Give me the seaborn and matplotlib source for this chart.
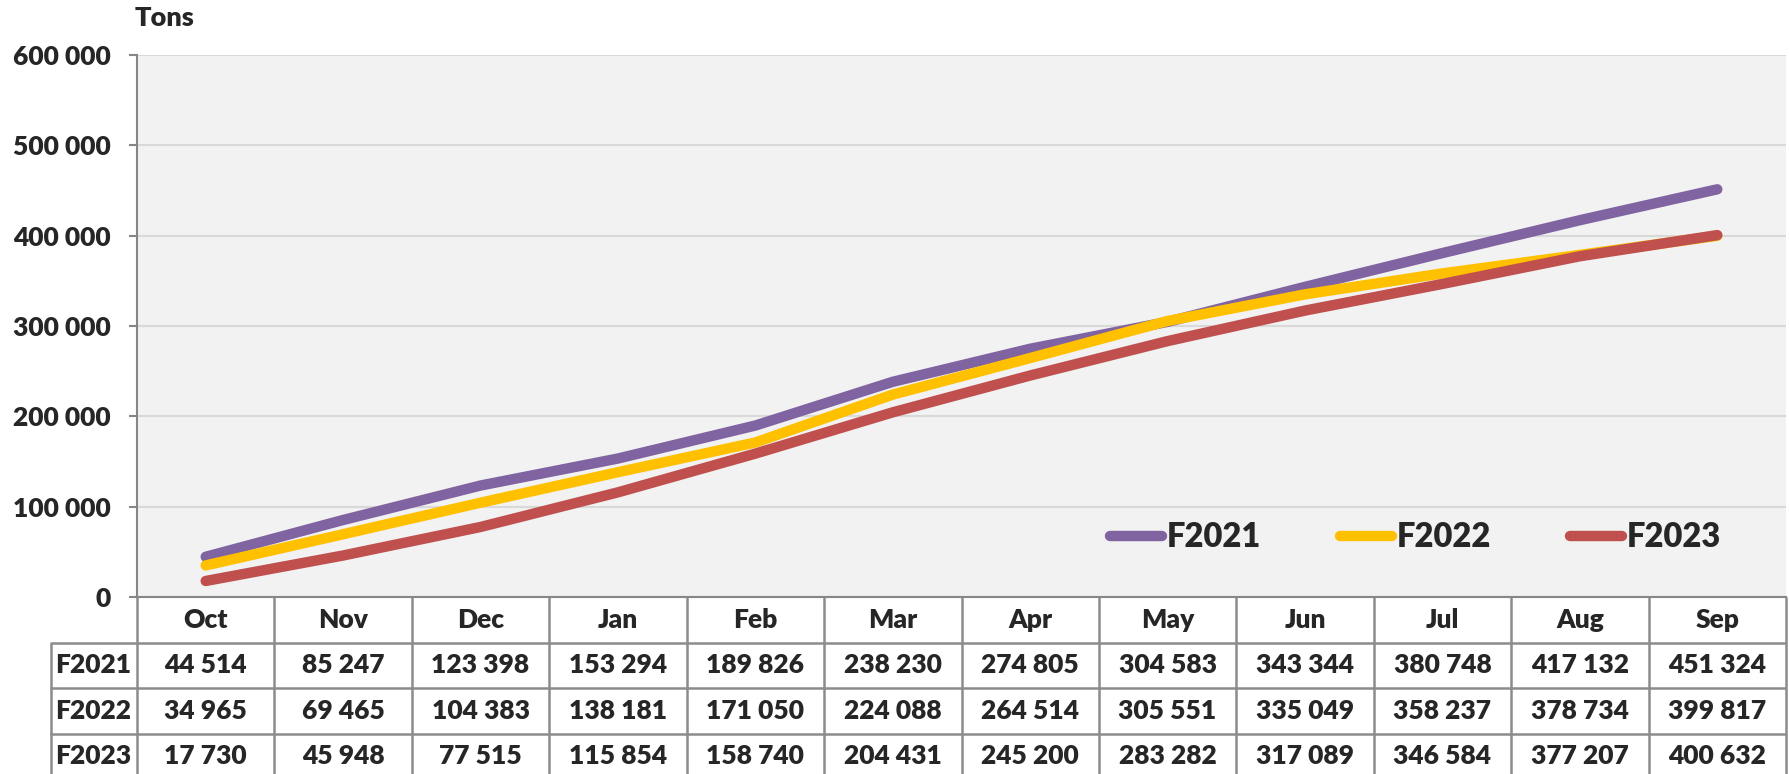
import matplotlib
matplotlib.use("Agg")
import matplotlib.pyplot as plt
from matplotlib.lines import Line2D
import seaborn as sns
import pandas as pd

months = ["Oct", "Nov", "Dec", "Jan", "Feb", "Mar", "Apr", "May", "Jun", "Jul", "Aug", "Sep"]
series_names = ["F2021", "F2022", "F2023"]
f2021 = [44514, 85247, 123398, 153294, 189826, 238230, 274805, 304583, 343344, 380748, 417132, 451324]
f2022 = [34965, 69465, 104383, 138181, 171050, 224088, 264514, 305551, 335049, 358237, 378734, 399817]
f2023 = [17730, 45948, 77515, 115854, 158740, 204431, 245200, 283282, 317089, 346584, 377207, 400632]
colors = ["#8064A2", "#FFC000", "#C0504D"]
y_ticks = [0, 100000, 200000, 300000, 400000, 500000, 600000]

series_values = [f2021, f2022, f2023]
df = pd.DataFrame({
    "month": months * 3,
    "series": [s for s in series_names for _ in months],
    "tons": f2021 + f2022 + f2023,
})


def fmt(v):
    return f"{v:,}".replace(",", " ")


sns.set_theme(style="white")
plt.rcParams["font.family"] = ["Lato", "DejaVu Sans"]
WEIGHT = 800
FS = 19

W, H = 1789, 774
fig = plt.figure(figsize=(W / 100, H / 100), dpi=100)
fig.patch.set_facecolor("white")

# geometry in pixels
left_px, right_px, top_px, zero_px = 137, 1786, 55, 597
tab_left_px = 50
ax = fig.add_axes([left_px / W, 1 - zero_px / H, (right_px - left_px) / W, (zero_px - top_px) / H])
ax.set_facecolor("#F2F2F2")

sns.lineplot(data=df, x="month", y="tons", hue="series", palette=colors,
             linewidth=7.5, sort=False, legend=False, ax=ax,
             solid_capstyle="round", solid_joinstyle="round")

ax.set_xlim(-0.5, len(months) - 0.5)
ax.set_ylim(y_ticks[0], y_ticks[-1])
ax.set_yticks(y_ticks)
ax.set_yticklabels([fmt(v) for v in y_ticks], fontsize=FS, fontweight=WEIGHT)
ax.set_xticks([])
ax.set_xlabel("")
ax.set_ylabel("")
ax.yaxis.grid(True, color="#D9D9D9", linewidth=1.5)
ax.set_axisbelow(True)
ax.tick_params(axis="y", direction="out", length=5.8, width=1.5, color="#868686", pad=13, left=True)
for s in ["top", "right"]:
    ax.spines[s].set_visible(False)
for s in ["left", "bottom"]:
    ax.spines[s].set_color("#868686")
    ax.spines[s].set_linewidth(1.5)

fig.text(135 / W, 1 - 18 / H, "Tons", fontsize=19.5, fontweight=WEIGHT, ha="left", va="center")

# legend
handles = [Line2D([], [], color=c, linewidth=7.5, solid_capstyle="round") for c in colors]
ax.legend(handles, series_names, loc="center left", ncol=3, frameon=False,
          bbox_to_anchor=(1110 / W, 1 - 537 / H), bbox_transform=fig.transFigure,
          prop={"family": "Lato", "weight": WEIGHT, "size": 23.5},
          handlelength=1.6, handletextpad=0.15, columnspacing=2.4,
          borderpad=0, borderaxespad=0)

# data table below the chart
col_w = (right_px - left_px) / len(months)
row_h = 45.5
tab = fig.add_axes([tab_left_px / W, 0, (right_px - tab_left_px) / W, (H - zero_px) / H])
tab.set_axis_off()
x_left = -0.5 - (left_px - tab_left_px) / col_w
x_right = len(months) - 0.5
y_bottom = (H - zero_px) / row_h
tab.set_xlim(x_left, x_right)
tab.set_ylim(y_bottom, 0)

grid_kw = dict(color="#8C8C8C", linewidth=1.8, solid_capstyle="butt", clip_on=False)
for r in range(1, 4):
    tab.plot([x_left, x_right], [r, r], **grid_kw)
for k in range(len(months) + 1):
    tab.plot([-0.5 + k, -0.5 + k], [0, y_bottom], **grid_kw)
tab.plot([x_left + 0.005, x_left + 0.005], [1, y_bottom], **grid_kw)

txt_kw = dict(ha="center", va="center", fontsize=FS, fontweight=WEIGHT)
for i, m in enumerate(months):
    tab.text(i, 0.5, m, **txt_kw)
for r, (name, vals) in enumerate(zip(series_names, series_values)):
    tab.text((x_left - 0.5) / 2, r + 1.5, name, **txt_kw)
    for i, v in enumerate(vals):
        tab.text(i, r + 1.5, fmt(v), **txt_kw)

fig.savefig("out.png", dpi=100)
